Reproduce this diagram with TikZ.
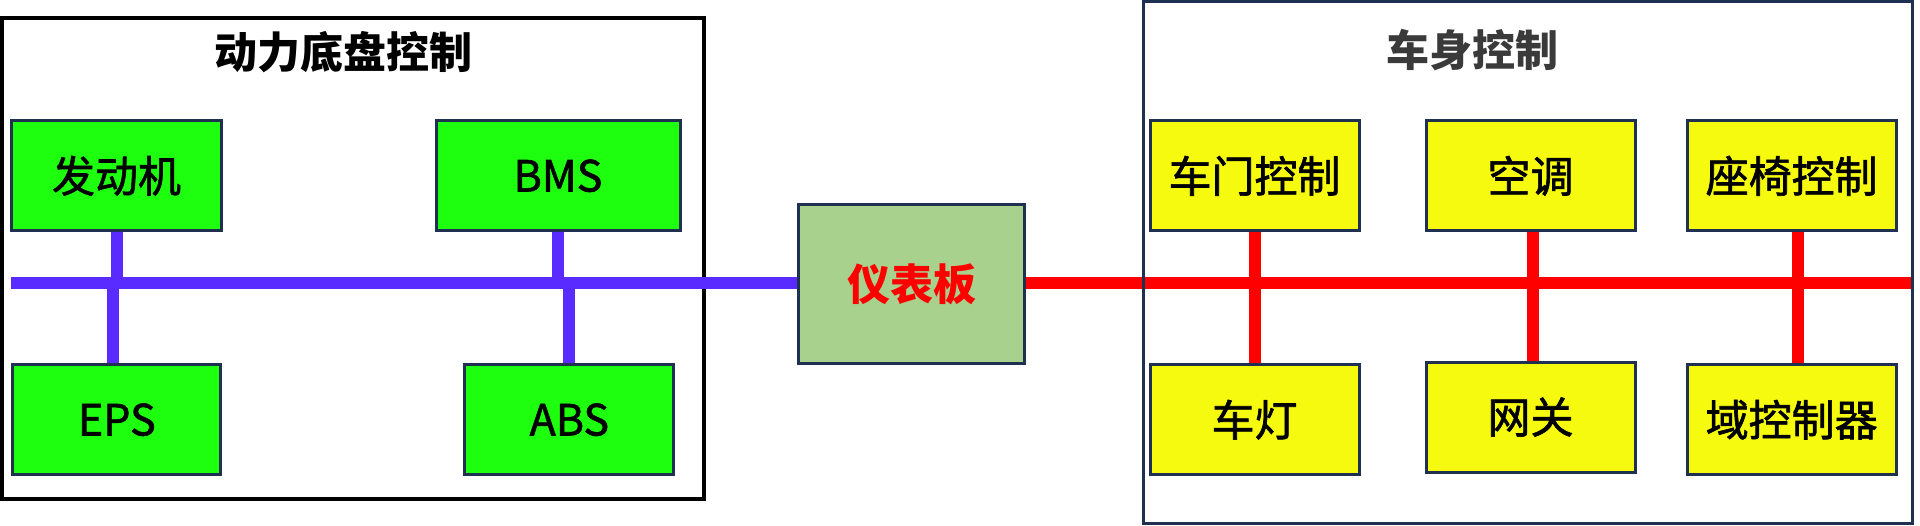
\documentclass[tikz,border=0pt]{standalone}
\usepackage{fontspec}
\setmainfont{Noto Sans CJK SC}
\newfontfamily\boxfont{Noto Sans CJK SC}[FakeBold=1.5]
\usetikzlibrary{backgrounds}
\definecolor{navy}{HTML}{1F3050}
\definecolor{boxgreen}{HTML}{1EFF10}
\definecolor{boxyellow}{HTML}{F6FA0E}
\definecolor{dashgreen}{HTML}{A9D18E}
\definecolor{busblue}{HTML}{5A2BFF}
\definecolor{busred}{HTML}{FF0000}
\definecolor{titlegray}{HTML}{3A3A3A}
\tikzset{
  cbox/.style={draw=navy, line width=3pt, inner sep=0pt, minimum height=110pt,
    font=\boxfont\fontsize{43}{50}\selectfont},
  gbox/.style={cbox, fill=boxgreen},
  ybox/.style={cbox, fill=boxyellow, minimum width=209pt},
  panel/.style={inner sep=0pt},
  ptitle/.style={font=\fontsize{43}{50}\selectfont\bfseries, inner sep=0pt},
  bbus/.style={busblue, line width=12pt},
  rbus/.style={busred, line width=12pt}
}
\begin{document}
\begin{tikzpicture}[x=1pt,y=-1pt]
\useasboundingbox (0,0) rectangle (1920,525);
% right panel
\node[panel, draw=navy, line width=3pt, minimum width=769.2pt, minimum height=522pt] (rp) at (1527.9,262) {};
\node[ptitle, text=titlegray] (rt) at (1472,50) {车身控制};
\node[ptitle] (lt) at (343.5,52.5) {动力底盘控制};
% green boxes
\node[gbox, minimum width=209.4pt] (eng) at (116.5,175.8) {发动机};
\node[gbox, minimum width=244pt] (bms) at (558,175.8) {BMS};
\node[gbox, minimum width=208pt] (eps) at (116.8,419.7) {EPS};
\node[gbox, minimum width=209pt] (abs) at (569.3,419.7) {ABS};
% dashboard
\node[draw=navy, line width=3pt, fill=dashgreen, minimum width=225.4pt, minimum height=159.3pt,
  inner sep=0pt, text=busred, font=\fontsize{43}{50}\selectfont\bfseries] (dash) at (911.5,283.85) {仪表板};
% yellow boxes
\node[ybox] (door) at (1254.5,175.8) {车门控制};
\node[ybox] (ac) at (1530.5,175.8) {空调};
\node[ybox] (seat) at (1791.7,175.8) {座椅控制};
\node[ybox] (lamp) at (1254.5,419.7) {车灯};
\node[ybox] (gw) at (1530.5,417) {网关};
\node[ybox] (dom) at (1791.7,419.7) {域控制器};
% bus ends
\coordinate (bl) at (11,283.4);
\coordinate (br) at (1913,283.4);
\begin{scope}[on background layer]
\node[panel, draw=black, line width=4pt, minimum width=701.8pt, minimum height=481pt] (lp) at (352.9,258.5) {};
\draw[bbus] (bl) -- (bl -| dash.west);
\draw[rbus] (br -| dash.east) -- (br);
\draw[bbus] (eng.south) -- (eng.south |- bl);
\draw[bbus] ([xshift=-4pt]eps.north) -- ([xshift=-4pt]eps.north |- bl);
\draw[bbus] (bms.south) -- (bms.south |- bl);
\draw[bbus] (abs.north) -- (abs.north |- bl);
\draw[rbus] (door.south) -- (lamp.north);
\draw[rbus] ([xshift=2.8pt]ac.south) -- ([xshift=2.8pt]ac.south |- dom.north);
\draw[rbus] ([xshift=6pt]seat.south) -- ([xshift=6pt]dom.north);
\end{scope}
\end{tikzpicture}
\end{document}
